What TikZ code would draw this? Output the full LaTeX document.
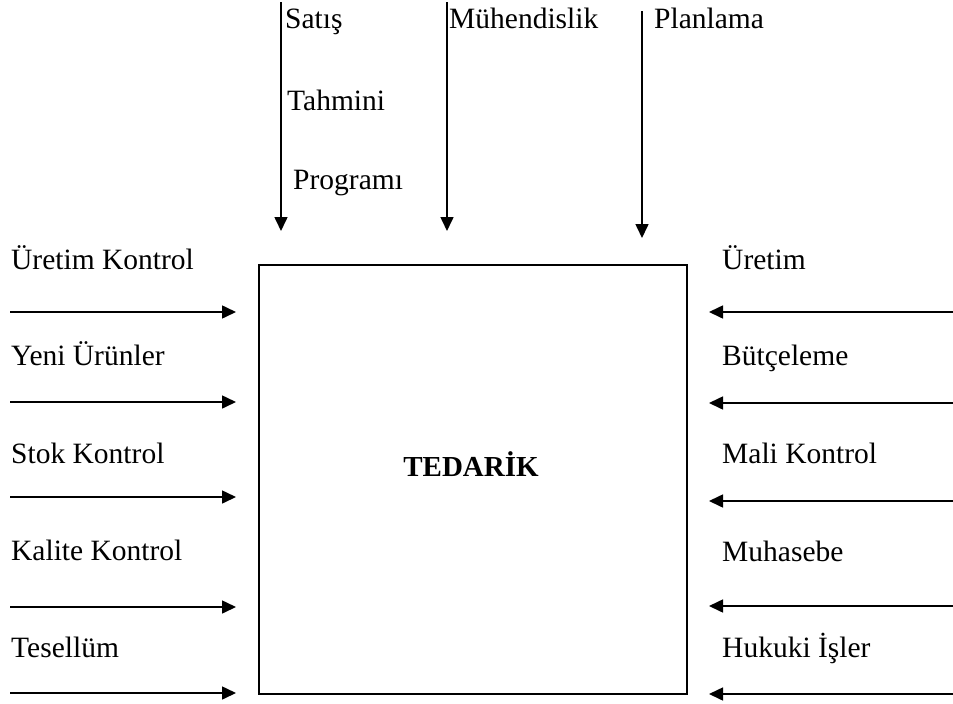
\documentclass[tikz,border=0pt]{standalone}
\usepackage{fontspec}
\setmainfont{Liberation Serif}
\usetikzlibrary{arrows.meta}
\begin{document}
\begin{tikzpicture}[x=1pt,y=-1pt,
  lbl/.style={anchor=base west,inner sep=0pt,font=\fontsize{29.5}{35}\selectfont},
  arr/.style={line width=1.6pt,-{Triangle[length=14pt,width=13pt]}},
  frame/.style={draw,line width=1.8pt,minimum width=428pt,minimum height=429pt,inner sep=0pt}]
\useasboundingbox (0,0) rectangle (953,704);

% central box
\node[frame] (box) at (473,479.5) {};
\node[anchor=base,inner sep=0pt,font=\fontsize{29}{35}\selectfont\bfseries] (title) at (471,476) {TEDARİK};

% inputs from above
\coordinate (t1s) at (281,2);   \coordinate (t1e) at (281,231);
\coordinate (t2s) at (447,2);   \coordinate (t2e) at (447,231);
\coordinate (t3s) at (642,11);  \coordinate (t3e) at (642,238);
\draw[arr] (t1s) -- (t1e);
\draw[arr] (t2s) -- (t2e);
\draw[arr] (t3s) -- (t3e);
\node[lbl] (satis) at (285,28) {Satış};
\node[lbl] (tahmin) at (287,110) {Tahmini};
\node[lbl] (program) at (293,189) {Programı};
\node[lbl] (muh) at (449,28) {Mühendislik};
\node[lbl] (plan) at (654,28) {Planlama};

% inputs from the left
\foreach \y/\name/\txt/\base in {312/l1/Üretim Kontrol/269, 402/l2/Yeni Ürünler/365, 497/l3/Stok Kontrol/463, 607/l4/Kalite Kontrol/560, 693/l5/Tesellüm/657}{
  \coordinate (\name s) at (10,\y);
  \coordinate (\name e) at (236,\y);
  \draw[arr] (\name s) -- (\name e);
  \node[lbl] (\name t) at (11,\base) {\txt};
}

% inputs from the right
\foreach \y/\name/\txt/\base in {312/r1/Üretim/269, 403/r2/Bütçeleme/365, 501/r3/Mali Kontrol/463, 606/r4/Muhasebe/561, 694/r5/Hukuki İşler/657}{
  \coordinate (\name s) at (953,\y);
  \coordinate (\name e) at (709,\y);
  \draw[arr] (\name s) -- (\name e);
  \node[lbl] (\name t) at (722,\base) {\txt};
}
\end{tikzpicture}
\end{document}
